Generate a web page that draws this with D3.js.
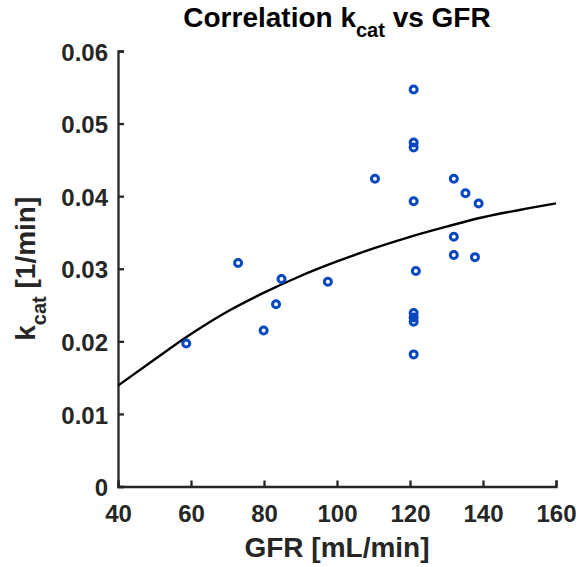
<!DOCTYPE html>
<html>
<head>
<meta charset="utf-8">
<script src="https://cdn.jsdelivr.net/npm/d3@7"></script>
<style>
  body { margin: 0; background: #fff; }
  svg text { font-family: "Liberation Sans", Arial, Helvetica, sans-serif; font-weight: bold; }
</style>
</head>
<body>
<svg id="chart"></svg>
<script>
// measured points (GFR in mL/min, kcat in 1/min)
let gfr = [58.7, 72.9, 79.9, 83.3, 84.8, 97.5, 110.4,
           121.0, 121.0, 121.0, 121.0, 121.6, 121.0, 121.0, 121.0, 121.0,
           132.0, 135.2, 138.8, 132.0, 132.0, 137.8];
let kcat = [0.0197, 0.0308, 0.0215, 0.0251, 0.0286, 0.0282, 0.0424,
            0.0547, 0.0474, 0.0467, 0.0393, 0.0297, 0.0239, 0.0233, 0.0227, 0.0182,
            0.0424, 0.0404, 0.0390, 0.0344, 0.0319, 0.0316];

// fitted curve
let fitGfr  = [40, 50, 60, 70, 80, 90, 100, 110, 120, 130, 140, 150, 160];
let fitKcat = [0.0139, 0.0175, 0.0210, 0.0241, 0.0267, 0.0290, 0.0310,
               0.0328, 0.0344, 0.0358, 0.0371, 0.0381, 0.0390];

let xTicks = [40, 60, 80, 100, 120, 140, 160];
let yTicks = [0, 0.01, 0.02, 0.03, 0.04, 0.05, 0.06];
let yTickLabels = ['0', '0.01', '0.02', '0.03', '0.04', '0.05', '0.06'];

let width = 579;
let height = 567;
let plotLeft = 118, plotRight = 556, plotTop = 51, plotBottom = 486.5;
let axisColor = '#262626';
let markerColor = '#0747c0';

let svg = d3.select('#chart')
            .attr('width', width)
            .attr('height', height);

let xScale = d3.scaleLinear()
                .domain([40, 160])
                .range([plotLeft, plotRight]);

let yScale = d3.scaleLinear()
                .domain([0, 0.06])
                .range([plotBottom, plotTop]);

let xAxis = d3.axisBottom(xScale)
              .tickValues(xTicks)
              .tickFormat(d3.format('d'))
              .tickSizeInner(-6)
              .tickSizeOuter(-6)
              .tickPadding(18);

let yAxis = d3.axisLeft(yScale)
              .tickValues(yTicks)
              .tickFormat((d, i) => yTickLabels[i])
              .tickSizeInner(-6)
              .tickSizeOuter(-6)
              .tickPadding(10);

let gx = svg.append('g')
    .attr('transform', `translate(0,${plotBottom})`)
    .call(xAxis);

let gy = svg.append('g')
    .attr('transform', `translate(${plotLeft},0)`)
    .call(yAxis);

[gx, gy].forEach(g => {
  g.select('.domain').attr('stroke', axisColor).attr('stroke-width', 2.3);
  g.selectAll('.tick line').attr('stroke', axisColor).attr('stroke-width', 2.3);
  g.selectAll('.tick text')
    .attr('fill', axisColor)
    .style('font-size', '24px');
});
gx.selectAll('.tick text').attr('dy', '0.71em');
gy.selectAll('.tick text').attr('dy', '0.38em');

// fitted line
let line = d3.line()
             .x((d, i) => xScale(fitGfr[i]))
             .y(d => yScale(d))
             .curve(d3.curveMonotoneX);

svg.append('path')
    .datum(fitKcat)
    .attr('d', line)
    .attr('fill', 'none')
    .attr('stroke', '#000')
    .attr('stroke-width', 2.4);

// data markers
svg.selectAll('circle.pt')
    .data(kcat)
    .enter()
    .append('circle')
    .classed('pt', true)
    .attr('cx', (d, i) => xScale(gfr[i]))
    .attr('cy', d => yScale(d))
    .attr('r', 3.5)
    .attr('fill', 'none')
    .attr('stroke', markerColor)
    .attr('stroke-width', 3);

// title
let title = svg.append('text')
    .attr('x', (plotLeft + plotRight) / 2)
    .attr('y', 27)
    .attr('text-anchor', 'middle')
    .attr('fill', '#000')
    .style('font-size', '28px');
title.append('tspan').text('Correlation k');
title.append('tspan').attr('dy', 10).style('font-size', '20px').text('cat');
title.append('tspan').attr('dy', -10).text(' vs GFR');

// x label
svg.append('text')
    .attr('x', (plotLeft + plotRight) / 2)
    .attr('y', 557)
    .attr('text-anchor', 'middle')
    .attr('fill', axisColor)
    .style('font-size', '28px')
    .text('GFR [mL/min]');

// y label
let ylab = svg.append('text')
    .attr('transform', `translate(35,${(plotTop + plotBottom) / 2}) rotate(-90)`)
    .attr('text-anchor', 'middle')
    .attr('fill', axisColor)
    .style('font-size', '28px');
ylab.append('tspan').text('k');
ylab.append('tspan').attr('dy', 11).style('font-size', '20px').text('cat');
ylab.append('tspan').attr('dy', -11).text(' [1/min]');
</script>
</body>
</html>
